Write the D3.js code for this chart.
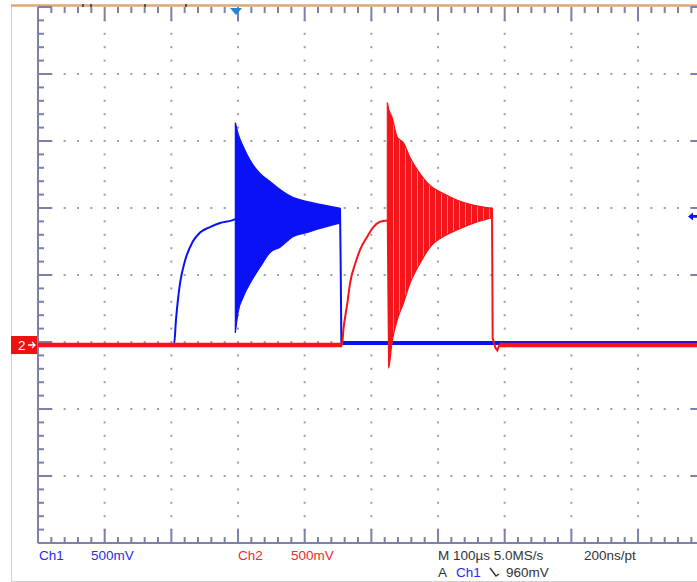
<!DOCTYPE html>
<html>
<head>
<meta charset="utf-8">
<script src="https://cdn.jsdelivr.net/npm/d3@7"></script>
<style>
  body { margin: 0; background: #fff; }
  svg { display: block; }
  text { font-family: "Liberation Sans", Arial, sans-serif; font-size: 13.5px; }
</style>
</head>
<body>
<svg id="scope" width="697" height="582"></svg>
<script>
// ---- acquisition settings ----
const voltsPerDiv = 0.5;          // both channels
const channelPosition = -1.045;   // ground offset in divisions
const timeWindow = [-300, 700];   // µs, 100 µs/div, trigger at 0
const triggerLevel = 0.96;        // V, Ch1 falling edge

// ---- Ch1 (blue) ----
const ch1LeadTime = [-300, -96, -93, -87, -80, -68, -57, -42, -27, -9, -4];
const ch1LeadVolt = [0, 0, 0.19, 0.46, 0.62, 0.77, 0.84, 0.88, 0.91, 0.93, 0.94];
const ch1BurstTime   = [-4, 0, 8, 18, 33, 48, 63, 83, 104, 123, 153];
const ch1BurstTop    = [1.66, 1.58, 1.48, 1.38, 1.28, 1.22, 1.16, 1.10, 1.07, 1.05, 1.02];
const ch1BurstBottom = [0.09, 0.24, 0.36, 0.46, 0.58, 0.69, 0.73, 0.81, 0.84, 0.87, 0.91];
const ch1TailTime = [153, 154, 155, 700];
const ch1TailVolt = [1.02, 0.6, 0.015, 0.015];

// ---- Ch2 (red) ----
const ch2LeadTime = [-300, 156, 158, 164, 168, 176, 183, 194, 203, 213, 224];
const ch2LeadVolt = [0, 0, 0.11, 0.31, 0.46, 0.61, 0.71, 0.81, 0.88, 0.92, 0.93];
const ch2BurstTime   = [224, 226, 231, 239, 248, 258, 273, 288, 308, 329, 348, 381];
const ch2BurstTop    = [1.81, 1.76, 1.70, 1.55, 1.51, 1.40, 1.28, 1.19, 1.13, 1.08, 1.05, 1.02];
const ch2BurstBottom = [0.93, -0.17, 0.02, 0.19, 0.31, 0.46, 0.61, 0.73, 0.81, 0.86, 0.90, 0.95];
const ch2TailTime = [381, 382, 386, 389, 392, 700];
const ch2TailVolt = [1.02, 0.05, -0.02, -0.04, 0, 0];

// ---- readout text ----
const ch1Readout = ["Ch1", "500mV"];
const ch2Readout = ["Ch2", "500mV"];
const timebaseReadout = ["M 100µs 5.0MS/s", "200ns/pt"];
const triggerReadout = ["A", "Ch1", "960mV"];
const markerLabel = "2";

// ---- layout ----
const screen = { left: 38, right: 704.7, top: 7, bottom: 543 };
const gridCol = "#9a9cba", frameCol = "#7c80aa";
const blue = "#0a12f5", red = "#f5141a";
const textBlue = "#2b2bee", textRed = "#ee2b2b", textDark = "#333333";

const svg = d3.select("#scope");

const x = d3.scaleLinear().domain(timeWindow).range([screen.left, screen.right]);
const yDiv = d3.scaleLinear().domain([-4, 4]).range([screen.bottom, screen.top]);
const y = v => yDiv(v / voltsPerDiv + channelPosition);
const xDiv = d3.scaleLinear().domain([0, 10]).range([screen.left, screen.right]);

// outer border of the display
svg.append("line").attr("x1", 11.5).attr("x2", 11.5).attr("y1", 5).attr("y2", 581)
  .attr("stroke", "#cfcfcf").attr("stroke-width", 1);
svg.append("line").attr("x1", 11).attr("x2", 697).attr("y1", 581.5).attr("y2", 581.5)
  .attr("stroke", "#cfcfcf").attr("stroke-width", 1);

// record-view bar along the top
svg.append("line").attr("x1", 11).attr("x2", 697).attr("y1", 5.5).attr("y2", 5.5)
  .attr("stroke", "#e0a674").attr("stroke-width", 2.4);
[83, 91, 145, 186].forEach(px => {
  svg.append("rect").attr("x", px - 1).attr("y", 4).attr("width", 2).attr("height", 3).attr("fill", "#555");
});

// dotted graticule
const grid = svg.append("g");
const minorX = d3.range(0, 10.001, 0.2);
const minorY = d3.range(-4, 4.001, 0.2);
for (let i = 1; i <= 9; i++) {
  minorY.forEach(d => {
    if (d > -3.99 && d < 3.99)
      grid.append("rect").attr("x", xDiv(i) - 1).attr("y", yDiv(d) - 1)
        .attr("width", 2).attr("height", 2).attr("fill", gridCol);
  });
}
for (let j = -3; j <= 3; j++) {
  minorX.forEach(d => {
    if (d > 0.01 && d < 9.99 && Math.abs(d - Math.round(d)) > 0.01)
      grid.append("rect").attr("x", xDiv(d) - 1).attr("y", yDiv(j) - 1)
        .attr("width", 2).attr("height", 2).attr("fill", gridCol);
  });
}

// frame edges with ruler ticks
const frame = svg.append("g").attr("stroke", frameCol).attr("stroke-width", 2);
frame.append("line").attr("x1", screen.left).attr("x2", screen.left)
  .attr("y1", screen.top).attr("y2", screen.bottom);
frame.append("line").attr("x1", screen.left).attr("x2", 697)
  .attr("y1", screen.bottom).attr("y2", screen.bottom);
const isMajor = d => Math.abs(d - Math.round(d)) < 0.01;
minorX.forEach(d => {
  const len = isMajor(d) ? 14 : 6;
  frame.append("line").attr("x1", xDiv(d)).attr("x2", xDiv(d))
    .attr("y1", screen.top).attr("y2", screen.top + len);
  frame.append("line").attr("x1", xDiv(d)).attr("x2", xDiv(d))
    .attr("y1", screen.bottom).attr("y2", screen.bottom - len);
});
minorY.forEach(d => {
  const len = isMajor(d) ? 14 : 6;
  frame.append("line").attr("x1", screen.left).attr("x2", screen.left + len)
    .attr("y1", yDiv(d)).attr("y2", yDiv(d));
  frame.append("line").attr("x1", screen.right).attr("x2", screen.right - len)
    .attr("y1", yDiv(d)).attr("y2", yDiv(d));
});

// waveform drawing helpers
const traceLine = d3.line().x(d => x(d[0])).y(d => y(d[1]));
const riseLine = d3.line().x(d => x(d[0])).y(d => y(d[1])).curve(d3.curveMonotoneX);
const burstArea = d3.area().x(d => x(d[0])).y0(d => y(d[2])).y1(d => y(d[1]))
  .curve(d3.curveMonotoneX);
const zip2 = (a, b) => a.map((t, i) => [t, b[i]]);
const zip3 = (a, b, c) => a.map((t, i) => [t, b[i], c[i]]);

// striped fill for the Ch2 burst
const defs = svg.append("defs");
const pat = defs.append("pattern").attr("id", "ch2stripes").attr("patternUnits", "userSpaceOnUse")
  .attr("width", 6).attr("height", 10);
pat.append("rect").attr("width", 6).attr("height", 10).attr("fill", red);
pat.append("rect").attr("x", 3).attr("width", 1).attr("height", 10).attr("fill", "#ff8080");

function drawChannel(color, lead, burst, tail, width, fill) {
  const g = svg.append("g");
  g.append("path").datum(zip2(...lead)).attr("d", riseLine)
    .attr("fill", "none").attr("stroke", color).attr("stroke-width", 2);
  g.append("path").datum(zip2(lead[0].slice(0, 2), lead[1].slice(0, 2))).attr("d", traceLine)
    .attr("fill", "none").attr("stroke", color).attr("stroke-width", width);
  g.append("path").datum(zip3(...burst)).attr("d", burstArea)
    .attr("fill", fill).attr("stroke", color).attr("stroke-width", 1.2);
  g.append("path").datum(zip2(...tail)).attr("d", traceLine)
    .attr("fill", "none").attr("stroke", color).attr("stroke-width", 2);
  const n = tail[0].length;
  g.append("path").datum(zip2(tail[0].slice(n - 2), tail[1].slice(n - 2))).attr("d", traceLine)
    .attr("fill", "none").attr("stroke", color).attr("stroke-width", width);
}

drawChannel(blue, [ch1LeadTime, ch1LeadVolt], [ch1BurstTime, ch1BurstTop, ch1BurstBottom],
  [ch1TailTime, ch1TailVolt], 4, blue);
drawChannel(red, [ch2LeadTime, ch2LeadVolt], [ch2BurstTime, ch2BurstTop, ch2BurstBottom],
  [ch2TailTime, ch2TailVolt], 4.5, "url(#ch2stripes)");

// trigger position marker (top)
const tx = x(-3);
svg.append("path").attr("d", `M${tx - 6},8 L${tx + 6},8 L${tx},15 Z`).attr("fill", "#1c8ad6");

// trigger level marker (right edge)
const ty = y(triggerLevel);
svg.append("path")
  .attr("d", `M688,${ty} L693,${ty - 4} L693,${ty - 1.3} L697,${ty - 1.3} L697,${ty + 1.3} L693,${ty + 1.3} L693,${ty + 4} Z`)
  .attr("fill", blue);

// channel 2 ground marker (left edge)
const gy = y(0);
svg.append("rect").attr("x", 11).attr("y", gy - 9).attr("width", 26).attr("height", 18).attr("fill", "#f01010");
svg.append("text").attr("x", 18).attr("y", gy + 5).attr("fill", "#fff").text(markerLabel);
svg.append("path").attr("d", `M28,${gy} L35,${gy} M32,${gy - 3} L35,${gy} L32,${gy + 3}`)
  .attr("stroke", "#fff").attr("stroke-width", 1.3).attr("fill", "none");

// readouts
const row1 = 560, row2 = 577;
const put = (txt, px, py, col) => svg.append("text").attr("x", px).attr("y", py).attr("fill", col).text(txt);
put(ch1Readout[0], 39, row1, textBlue);
put(ch1Readout[1], 91, row1, textBlue);
put(ch2Readout[0], 238, row1, textRed);
put(ch2Readout[1], 291, row1, textRed);
put(timebaseReadout[0], 438, row1, textDark);
put(timebaseReadout[1], 584, row1, textDark);
put(triggerReadout[0], 438, row2, textDark);
put(triggerReadout[1], 456, row2, textBlue);
put(triggerReadout[2], 506, row2, textDark);
// falling-edge symbol
svg.append("path").attr("d", `M490,${row2 - 9} L496,${row2 - 1} L499,${row2 - 3}`)
  .attr("stroke", textDark).attr("stroke-width", 1.4).attr("fill", "none");
</script>
</body>
</html>
